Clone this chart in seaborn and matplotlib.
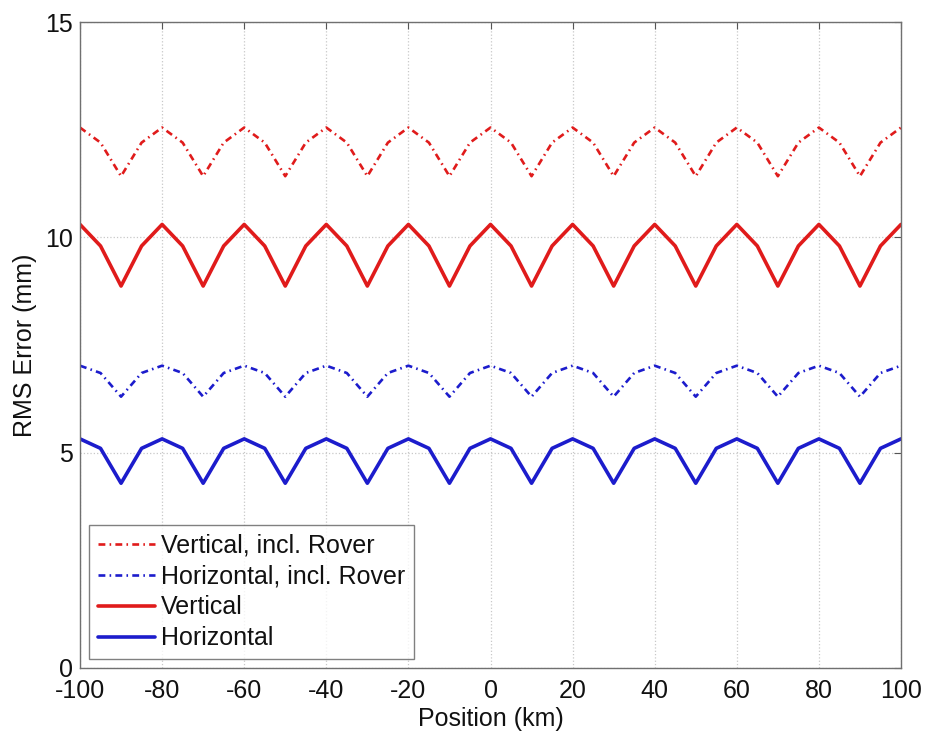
import numpy as np
import pandas as pd
import matplotlib
matplotlib.use("Agg")
import matplotlib.pyplot as plt
import seaborn as sns

# sample positions (km)
position = [-100, -95, -90, -85, -80, -75, -70, -65, -60, -55, -50, -45, -40, -35,
            -30, -25, -20, -15, -10, -5, 0, 5, 10, 15, 20, 25, 30, 35, 40, 45,
            50, 55, 60, 65, 70, 75, 80, 85, 90, 95, 100]

# RMS error (mm)
vert_rover = [12.55, 12.2, 11.42, 12.2, 12.55, 12.2, 11.42, 12.2, 12.55, 12.2,
              11.42, 12.2, 12.55, 12.2, 11.42, 12.2, 12.55, 12.2, 11.42, 12.2,
              12.55, 12.2, 11.42, 12.2, 12.55, 12.2, 11.42, 12.2, 12.55, 12.2,
              11.42, 12.2, 12.55, 12.2, 11.42, 12.2, 12.55, 12.2, 11.42, 12.2, 12.55]
horiz_rover = [7.02, 6.85, 6.3, 6.85, 7.02, 6.85, 6.3, 6.85, 7.02, 6.85,
               6.3, 6.85, 7.02, 6.85, 6.3, 6.85, 7.02, 6.85, 6.3, 6.85,
               7.02, 6.85, 6.3, 6.85, 7.02, 6.85, 6.3, 6.85, 7.02, 6.85,
               6.3, 6.85, 7.02, 6.85, 6.3, 6.85, 7.02, 6.85, 6.3, 6.85, 7.02]
vertical = [10.3, 9.8, 8.87, 9.8, 10.3, 9.8, 8.87, 9.8, 10.3, 9.8,
            8.87, 9.8, 10.3, 9.8, 8.87, 9.8, 10.3, 9.8, 8.87, 9.8,
            10.3, 9.8, 8.87, 9.8, 10.3, 9.8, 8.87, 9.8, 10.3, 9.8,
            8.87, 9.8, 10.3, 9.8, 8.87, 9.8, 10.3, 9.8, 8.87, 9.8, 10.3]
horizontal = [5.32, 5.1, 4.29, 5.1, 5.32, 5.1, 4.29, 5.1, 5.32, 5.1,
              4.29, 5.1, 5.32, 5.1, 4.29, 5.1, 5.32, 5.1, 4.29, 5.1,
              5.32, 5.1, 4.29, 5.1, 5.32, 5.1, 4.29, 5.1, 5.32, 5.1,
              4.29, 5.1, 5.32, 5.1, 4.29, 5.1, 5.32, 5.1, 4.29, 5.1, 5.32]

series_names = ["Vertical, incl. Rover", "Horizontal, incl. Rover", "Vertical", "Horizontal"]

sns.set_style("white")
plt.rcParams['font.family'] = ['Liberation Sans', 'DejaVu Sans']
plt.rcParams['axes.unicode_minus'] = False

df = pd.DataFrame({
    'Position': position * 4,
    'RMS': vert_rover + horiz_rover + vertical + horizontal,
    'Series': sum([[n] * len(position) for n in series_names], []),
})

red = '#e01b1b'
blue = '#1c1ccc'
dashdot = (0, (2.6, 1.6, 0.6, 1.6))
styles = {
    "Vertical, incl. Rover": dict(color=red, lw=1.9, ls=dashdot),
    "Horizontal, incl. Rover": dict(color=blue, lw=1.9, ls=dashdot),
    "Vertical": dict(color=red, lw=2.6, ls='-'),
    "Horizontal": dict(color=blue, lw=2.6, ls='-'),
}

fig = plt.figure(figsize=(9.26, 7.35), dpi=100)
ax = fig.add_axes([0.0864, 0.0912, 0.8866, 0.8788])

for name in series_names:
    st = styles[name]
    sub = df[df['Series'] == name]
    sns.lineplot(data=sub, x='Position', y='RMS', ax=ax, color=st['color'],
                 linewidth=st['lw'], linestyle=st['ls'], label=name)

ax.set_xlim(-100, 100)
ax.set_ylim(0, 15)
ax.set_xticks(range(-100, 101, 20))
ax.set_yticks([0, 5, 10, 15])
ax.grid(True, color='#c8c8c8', linestyle=':', linewidth=0.9)
ax.tick_params(direction='in', top=True, right=True, length=5, width=0.8,
               labelsize=18, colors='#555555', labelcolor='#111111')
ax.tick_params(axis='x', pad=8)
ax.tick_params(axis='y', pad=5)
for sp in ax.spines.values():
    sp.set_color('#707070')
    sp.set_linewidth(1.0)

ax.set_xlabel('Position (km)', fontsize=18, color='#111111', labelpad=3)
ax.set_ylabel('RMS Error (mm)', fontsize=18, color='#111111', labelpad=6)

leg = ax.legend(loc='lower left', fontsize=18, frameon=True, fancybox=False,
                handlelength=2.3, handletextpad=0.25, borderpad=0.35,
                labelspacing=0.28, borderaxespad=0.35)
leg.get_frame().set_edgecolor('#606060')
leg.get_frame().set_linewidth(1.0)
for t in leg.get_texts():
    t.set_color('#111111')

fig.savefig('out.png', dpi=100)
